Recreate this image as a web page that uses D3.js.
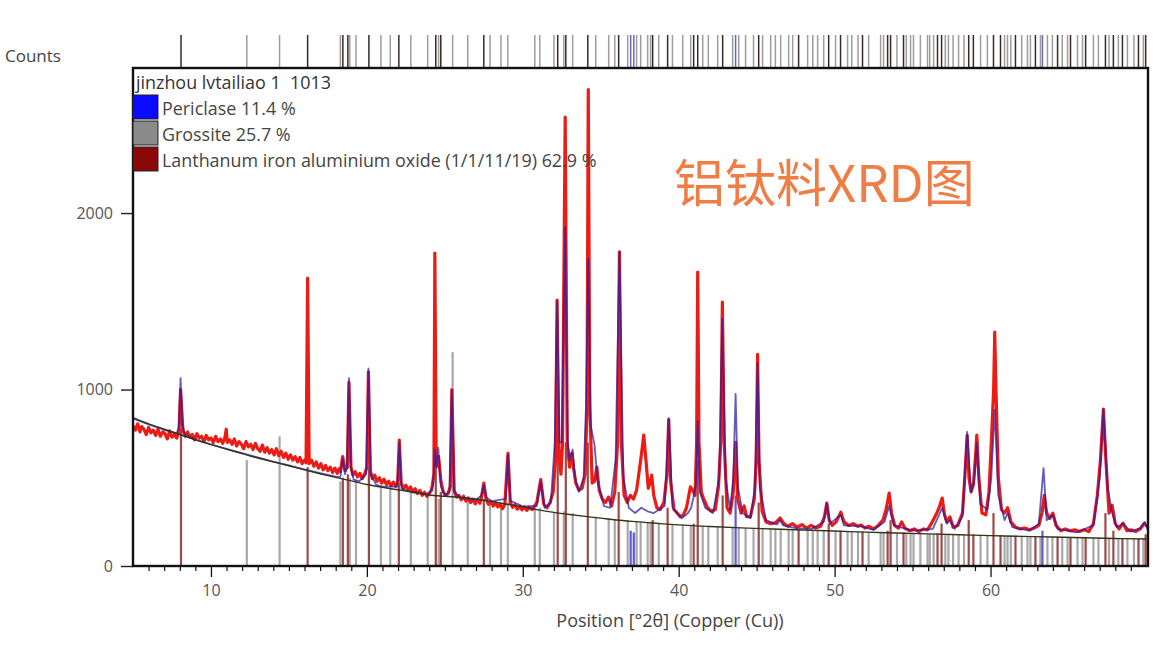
<!DOCTYPE html>
<html><head><meta charset="utf-8">
<script src="https://cdn.jsdelivr.net/npm/d3@7/dist/d3.min.js"></script>
<style>body{margin:0;background:#fff;} svg{display:block} text{white-space:pre}</style>
</head><body>
<svg id="c" width="1176" height="660"></svg>
<script>
// ---------- data ----------
const xTicks = [10, 20, 30, 40, 50, 60];
const yTicks = [0, 1000, 2000];
const sampleName = "jinzhou lvtailiao 1  1013";
const phaseNames = ["Periclase 11.4 %", "Grossite 25.7 %", "Lanthanum iron aluminium oxide (1/1/11/19) 62.9 %"];
const chartTitle = "铝钛料XRD图";
const xTitle = "Position [°2θ] (Copper (Cu))";
const yTitle = "Counts";

// background curve [2θ, counts]
const background = [[5,840],[6,805],[7,775],[8,745],[9,715],[10,688],[11,662],[12,637],[13,612],[14,590],[15,568],[16,545],[17,523],[18,502],[19,482],[20,462],[21,446],[22,432],[23,418],[24,402],[25,395],[26,389],[27,380],[28,365],[29,350],[30,335],[31,318],[32,304],[33,292],[34,281],[35,271],[36,261],[37,253],[38,246],[39,239],[40,233],[42,224],[44,216],[46,210],[48,204],[50,198],[52,192],[54,187],[56,182],[58,177],[60,172],[62,168],[64,164],[66,160],[68,156],[70,153]];

// observed profile [2θ, counts]
const observed = [[5.0,795],[5.15,770],[5.3,805],[5.45,760],[5.55,790],[5.7,775],[5.85,745],[6.0,785],[6.15,755],[6.3,770],[6.45,740],[6.6,775],[6.75,735],[6.9,760],[7.05,750],[7.2,720],[7.35,765],[7.5,730],[7.65,745],[7.8,725],
[7.95,760],[8.05,1000],[8.2,770],[8.35,735],[8.5,760],[8.65,730],[8.8,745],[8.95,715],[9.1,750],[9.25,725],[9.4,735],[9.55,705],[9.7,740],[9.85,715],[10.0,725],[10.15,700],[10.3,735],[10.45,705],[10.6,720],[10.75,695],[10.9,730],[10.98,775],[11.05,700],[11.2,715],[11.35,690],[11.5,720],[11.65,680],[11.8,705],[11.95,690],[12.1,665],[12.25,705],[12.4,675],[12.55,690],[12.7,660],[12.85,695],[13.0,665],[13.15,650],[13.3,685],[13.45,645],[13.6,670],[13.75,640],[13.9,660],[14.05,630],[14.2,665],[14.35,625],[14.5,650],[14.65,615],[14.8,640],[14.95,605],[15.1,630],[15.25,600],[15.4,620],[15.55,590],[15.7,615],[15.85,580],[16.0,600],
[16.1,585],[16.2,1632],[16.3,580],[16.45,600],[16.6,565],[16.75,590],[16.9,555],[17.05,580],[17.2,545],[17.35,570],[17.5,540],[17.65,560],[17.8,530],[17.95,555],[18.1,525],[18.2,550],
[18.3,535],[18.45,620],[18.6,540],[18.75,560],[18.85,1040],[18.98,560],[19.1,515],[19.25,535],[19.4,505],[19.55,525],[19.7,495],[19.85,520],
[20.0,560],[20.1,1100],[20.22,540],[20.35,495],[20.5,515],[20.65,480],[20.8,500],[20.95,470],[21.1,492],[21.25,462],[21.4,480],[21.55,455],[21.7,475],[21.85,452],
[21.98,480],[22.08,714],[22.2,470],[22.35,440],[22.5,458],[22.65,430],[22.8,448],[22.95,420],[23.1,438],[23.25,410],[23.4,428],[23.55,400],[23.7,418],[23.85,395],[24.0,412],[24.15,430],
[24.3,520],[24.36,1773],[24.45,560],[24.6,620],[24.75,480],[24.9,420],[25.05,400],[25.2,410],[25.35,450],
[25.45,1000],[25.6,430],[25.75,390],[25.9,400],[26.05,375],[26.2,395],[26.35,368],[26.5,385],[26.65,360],[26.8,378],[26.95,352],[27.1,372],[27.25,355],[27.35,390],
[27.5,470],[27.65,380],[27.8,350],[27.95,365],[28.1,340],[28.25,358],[28.4,335],[28.55,350],[28.7,325],[28.85,350],
[29.05,640],[29.2,360],[29.35,332],[29.5,348],[29.65,322],[29.8,338],[29.95,318],[30.1,335],[30.25,315],[30.4,332],[30.6,320],[30.9,360],
[31.15,490],[31.35,350],[31.55,330],[31.75,360],[31.95,420],
[32.1,600],[32.2,1507],[32.32,640],[32.45,520],[32.55,700],[32.72,2544],[32.85,700],[33.0,560],[33.15,640],[33.25,560],[33.4,470],[33.6,430],[33.8,440],[34.0,520],
[34.12,900],[34.2,2700],[34.3,900],[34.45,470],[34.6,480],[34.75,560],[34.9,430],[35.1,380],[35.3,360],[35.5,390],[35.7,340],[35.9,420],
[36.08,700],[36.2,1780],[36.32,700],[36.5,400],[36.7,360],[36.9,400],[37.1,380],[37.3,430],[37.5,560],
[37.62,640],[37.76,742],[37.9,600],[38.05,440],[38.15,470],[38.27,515],[38.4,400],[38.6,330],[38.8,320],[39.05,360],
[39.25,520],[39.36,830],[39.48,480],[39.7,320],[39.9,300],[40.1,280],[40.3,290],[40.5,330],
[40.75,448],[40.9,430],[41.05,400],[41.15,700],[41.22,1666],[41.3,700],[41.45,420],[41.6,380],[41.85,330],[42.1,310],[42.35,320],[42.55,450],
[42.7,700],[42.8,1496],[42.92,700],[43.1,330],[43.3,300],[43.5,420],
[43.65,700],[43.78,380],[44.0,300],[44.2,340],[44.35,280],[44.6,280],[44.85,380],
[44.97,600],[45.06,1200],[45.15,600],[45.35,310],[45.6,250],[45.9,240],[46.2,245],[46.5,272],[46.75,240],[47.0,225],[47.3,240],[47.6,220],[47.9,235],[48.2,215],[48.5,230],[48.8,215],[49.1,225],[49.35,280],
[49.5,357],[49.65,260],[49.85,230],[50.1,250],[50.4,305],[50.6,250],[50.9,230],[51.2,240],[51.5,225],[51.7,232],[51.95,215],[52.2,225],[52.5,210],[52.8,230],[53.1,260],[53.3,320],
[53.5,413],[53.65,300],[53.85,230],[54.1,215],[54.3,250],[54.5,215],[54.8,200],[55.1,210],[55.4,195],[55.7,210],[55.95,205],[56.2,240],[56.5,290],[56.7,330],
[56.9,385],[57.05,290],[57.2,250],[57.4,278],[57.6,220],[57.9,230],[58.2,300],[58.35,500],
[58.5,740],[58.62,500],[58.75,420],[58.9,460],[59.05,640],[59.12,742],[59.25,500],[59.45,300],[59.7,290],[59.9,420],[60.05,700],
[60.2,1000],[60.27,1326],[60.35,1000],[60.5,500],[60.7,320],[60.9,300],[61.1,330],[61.3,250],[61.6,220],[61.9,210],[62.2,215],[62.5,205],[62.8,215],[63.1,230],
[63.3,300],[63.45,400],[63.6,300],[63.8,270],[64.0,300],[64.2,230],[64.5,200],[64.8,210],[65.1,200],[65.4,205],[65.7,195],[66.0,205],[66.3,195],[66.6,240],[66.85,400],
[67.05,600],[67.24,889],[67.4,600],[67.6,300],[67.8,345],[68.0,240],[68.25,210],[68.5,243],[68.75,200],[69.0,205],[69.3,195],[69.6,210],[69.85,240],[70.1,220]];

// calculated (fitted) profile [2θ, counts]
const calculated = [[5,835],[6,802],[7,772],[7.8,752],[7.95,790],[8.05,1065],[8.17,800],[8.35,740],[9,718],[10,690],[11,664],[12,640],[13,615],[14,592],[15,570],[16,548],[17,526],[18,506],[18.3,505],[18.45,610],[18.6,520],[18.72,560],[18.85,1065],[18.98,560],[19.15,490],[19.5,480],[19.95,520],[20.1,1120],[20.25,520],[20.6,460],[21,450],[21.95,450],[22.08,700],[22.22,440],[22.6,425],[23,418],[24,405],[24.25,460],[24.35,660],[24.45,560],[24.58,670],[24.75,450],[25.0,400],[25.3,420],[25.45,997],[25.6,420],[26,388],[27,375],[27.35,400],[27.5,460],[27.65,390],[28,368],[28.9,380],[29.05,630],[29.2,370],[30,338],[30.9,340],[31.15,480],[31.4,330],[31.8,360],[32.05,700],[32.2,1500],[32.35,700],[32.5,700],[32.72,1920],[32.88,700],[33.0,600],[33.2,660],[33.35,500],[33.6,420],[33.9,500],[34.05,900],[34.2,1740],[34.35,800],[34.6,686],[34.8,480],[35.2,340],[35.6,330],[35.95,600],[36.2,1780],[36.45,500],[36.8,330],[37.2,300],[37.6,330],[38.0,310],[38.4,300],[39.1,340],[39.36,838],[39.6,330],[40.2,270],[40.6,300],[40.8,330],[40.95,390],[41.1,460],[41.22,820],[41.35,420],[41.7,330],[42.2,300],[42.6,500],[42.8,1400],[43.0,500],[43.3,320],[43.5,500],[43.65,975],[43.8,450],[44.1,300],[44.6,270],[44.9,450],[45.06,1150],[45.2,450],[45.6,260],[46.3,235],[46.5,260],[46.7,230],[47.5,215],[48.5,210],[49.3,250],[49.5,357],[49.7,240],[50.4,290],[50.6,230],[51.7,225],[52.5,205],[53.2,250],[53.5,340],[53.8,230],[55,200],[56.3,210],[56.9,330],[57.2,240],[57.4,260],[57.7,210],[58.2,280],[58.5,760],[58.75,420],[58.95,480],[59.12,700],[59.35,350],[59.8,320],[60.05,500],[60.27,884],[60.5,400],[60.9,260],[61.1,300],[61.4,220],[62.5,200],[63.1,240],[63.4,555],[63.6,260],[64.0,290],[64.3,210],[65.5,190],[66.6,230],[67.0,500],[67.24,889],[67.5,450],[67.8,300],[68.1,220],[68.5,240],[69,195],[69.6,215],[69.9,250],[70.1,200]];

// reference sticks [2θ, counts] per phase
const periclaseSticks = [[36.92,200],[37.12,190],[43.65,400],[63.33,200]];
const grossiteSticks = [[12.3,600],[14.4,735],[18.3,480],[18.9,500],[19.3,490],[20.9,446],[21.5,440],[22.82,430],[23.9,420],[24.6,380],[25.5,1212],[26.47,380],[27.9,368],[28.6,355],[29.04,360],[30.77,330],[31.09,330],[32.0,300],[32.63,310],[33.2,300],[34.68,280],[35.51,270],[35.9,265],[36.73,260],[37.3,255],[37.56,250],[38.01,250],[38.2,245],[38.72,240],[39.6,238],[40.26,235],[40.77,230],[41.54,228],[41.9,226],[42.5,222],[43.46,220],[43.85,218],[44.29,215],[44.8,214],[45.38,212],[45.9,211],[46.2,210],[46.54,210],[47.05,208],[47.31,206],[48.27,203],[48.6,201],[48.91,200],[49.3,199],[50.06,198],[50.83,196],[51.1,194],[51.5,194],[52.18,192],[52.95,190],[53.14,190],[54.0,187],[54.6,186],[54.87,186],[55.06,185],[55.5,184],[55.96,182],[56.1,182],[56.35,181],[57.1,180],[57.3,179],[57.6,178],[57.95,177],[58.3,176],[59.36,174],[59.8,173],[60.9,171],[61.09,170],[61.3,170],[62.0,169],[62.37,168],[62.56,167],[63.2,166],[63.65,165],[63.97,164],[64.6,163],[64.94,162],[65.58,161],[65.9,160],[66.6,159],[66.92,158],[67.6,157],[68.2,157],[68.78,156],[69.2,155],[69.8,154]];
const lanthanumSticks = [[8.08,780],[16.2,560],[18.46,500],[18.78,520],[20.13,560],[22.05,470],[24.42,560],[24.74,420],[27.5,380],[32.24,700],[32.76,700],[34.17,700],[36.15,420],[38.33,260],[39.29,330],[40.96,240],[41.22,600],[42.82,400],[45.13,360],[47.69,205],[49.62,240],[50.38,200],[51.79,195],[53.4,200],[53.59,260],[54.42,190],[56.6,185],[56.86,240],[58.6,260],[58.9,180],[60.19,300],[60.64,175],[61.6,170],[62.88,168],[64.3,165],[65.13,162],[66.1,160],[67.37,300],[67.88,200],[68.46,158],[69.49,155],[69.95,180]];

// ---------- drawing ----------
const svg = d3.select("#c");
const L = 133, R = 1148, T = 68, B = 566;
const x = d3.scaleLinear().domain([5, 70.1]).range([L, R]);
const y = d3.scaleLinear().domain([0, 2822]).range([B, T]);
const font = "'Open Sans', 'DejaVu Sans', sans-serif";

svg.append("rect").attr("width",1176).attr("height",660).attr("fill","#fff");
svg.append("defs").append("clipPath").attr("id","plot")
  .append("rect").attr("x",L).attr("y",T).attr("width",R-L).attr("height",B-T);
const plot = svg.append("g").attr("clip-path","url(#plot)");

const phases = [
  {sticks: periclaseSticks, plotColor:"#4040d0", stripColor:"#6a6ab8", swatch:"#0a0aff"},
  {sticks: grossiteSticks, plotColor:"#9a9a9a", stripColor:"#9d9d9d", swatch:"#8a8a8a"},
  {sticks: lanthanumSticks, plotColor:"#8e2a2a", stripColor:"#3a2828", swatch:"#8b0808"}
];

// sticks in plot
[phases[1], phases[2], phases[0]].forEach(p => {
  plot.selectAll(null).data(p.sticks).enter().append("line")
    .attr("x1", d => x(d[0])).attr("x2", d => x(d[0]))
    .attr("y1", y(0)).attr("y2", d => y(d[1]))
    .attr("stroke", p.plotColor).attr("stroke-width", 2.2).attr("opacity", 0.85);
});

const line = d3.line().x(d => x(d[0])).y(d => y(d[1]));
plot.append("path").datum(observed).attr("d", line)
  .attr("fill","none").attr("stroke","#ec1c14").attr("stroke-width",3.2).attr("stroke-linejoin","round");
plot.append("path").datum(calculated).attr("d", line)
  .attr("fill","none").attr("stroke","#2a1aa8").attr("stroke-width",1.8).attr("opacity",0.72).attr("stroke-linejoin","round");
plot.append("path").datum(background).attr("d", d3.line().curve(d3.curveMonotoneX).x(d=>x(d[0])).y(d=>y(d[1])))
  .attr("fill","none").attr("stroke","#34341a").attr("stroke-width",1.4);

// strip of reference positions above the plot
const strip = svg.append("g");
[phases[1], phases[2], phases[0]].forEach(p => {
  strip.selectAll(null).data(p.sticks).enter().append("line")
    .attr("x1", d => x(d[0])).attr("x2", d => x(d[0]))
    .attr("y1", 35).attr("y2", T)
    .attr("stroke", p.stripColor).attr("stroke-width", 1.5);
});

// axes
const xAxis = d3.axisBottom(x).tickValues(xTicks).tickSize(11).tickPadding(8).tickFormat(d3.format("d"));
const gx = svg.append("g").attr("transform",`translate(0,${B})`).call(xAxis);
gx.select(".domain").remove();
gx.selectAll("line").attr("stroke","#111").attr("stroke-width",1.3);
gx.selectAll("text").attr("font-family",font).attr("font-size",16).attr("fill","#555");
const minor = d3.range(6, 70).filter(v => !xTicks.includes(v));
const gxm = svg.append("g").attr("transform",`translate(0,${B})`)
  .call(d3.axisBottom(x).tickValues(minor).tickSize(5).tickFormat(""));
gxm.select(".domain").remove();
gxm.selectAll("line").attr("stroke","#111").attr("stroke-width",1.2);

const gy = svg.append("g").attr("transform",`translate(${L},0)`)
  .call(d3.axisLeft(y).tickValues(yTicks).tickSize(12).tickPadding(8).tickFormat(d3.format("d")));
gy.select(".domain").remove();
gy.selectAll("line").attr("stroke","#222").attr("stroke-width",1.4);
gy.selectAll("text").attr("font-family",font).attr("font-size",16).attr("fill","#555");

// frame
svg.append("rect").attr("x",L).attr("y",T).attr("width",R-L).attr("height",B-T)
  .attr("fill","none").attr("stroke","#111").attr("stroke-width",2.4);

// legend
svg.append("text").attr("x",136).attr("y",89).text(sampleName)
  .attr("font-family",font).attr("font-size",17.9).attr("fill","#333");
phases.forEach((p,i) => {
  svg.append("rect").attr("x",L).attr("y",95+i*26).attr("width",25).attr("height",24)
    .attr("fill",p.swatch).attr("stroke","#222").attr("stroke-width",1);
  svg.append("text").attr("x",162).attr("y",115+i*26).text(phaseNames[i])
    .attr("font-family",font).attr("font-size",17.9).attr("fill","#444");
});

// titles
svg.append("text").attr("x",5).attr("y",62).text(yTitle)
  .attr("font-family",font).attr("font-size",17).attr("fill","#444");
svg.append("text").attr("x",670).attr("y",627).attr("text-anchor","middle").text(xTitle)
  .attr("font-family",font).attr("font-size",18).attr("fill","#444");
svg.append("text").attr("x",674).attr("y",202).text(chartTitle)
  .attr("font-family","'Noto Sans CJK SC', sans-serif").attr("font-size",51).attr("fill","#ef7d45");
</script>
</body></html>
